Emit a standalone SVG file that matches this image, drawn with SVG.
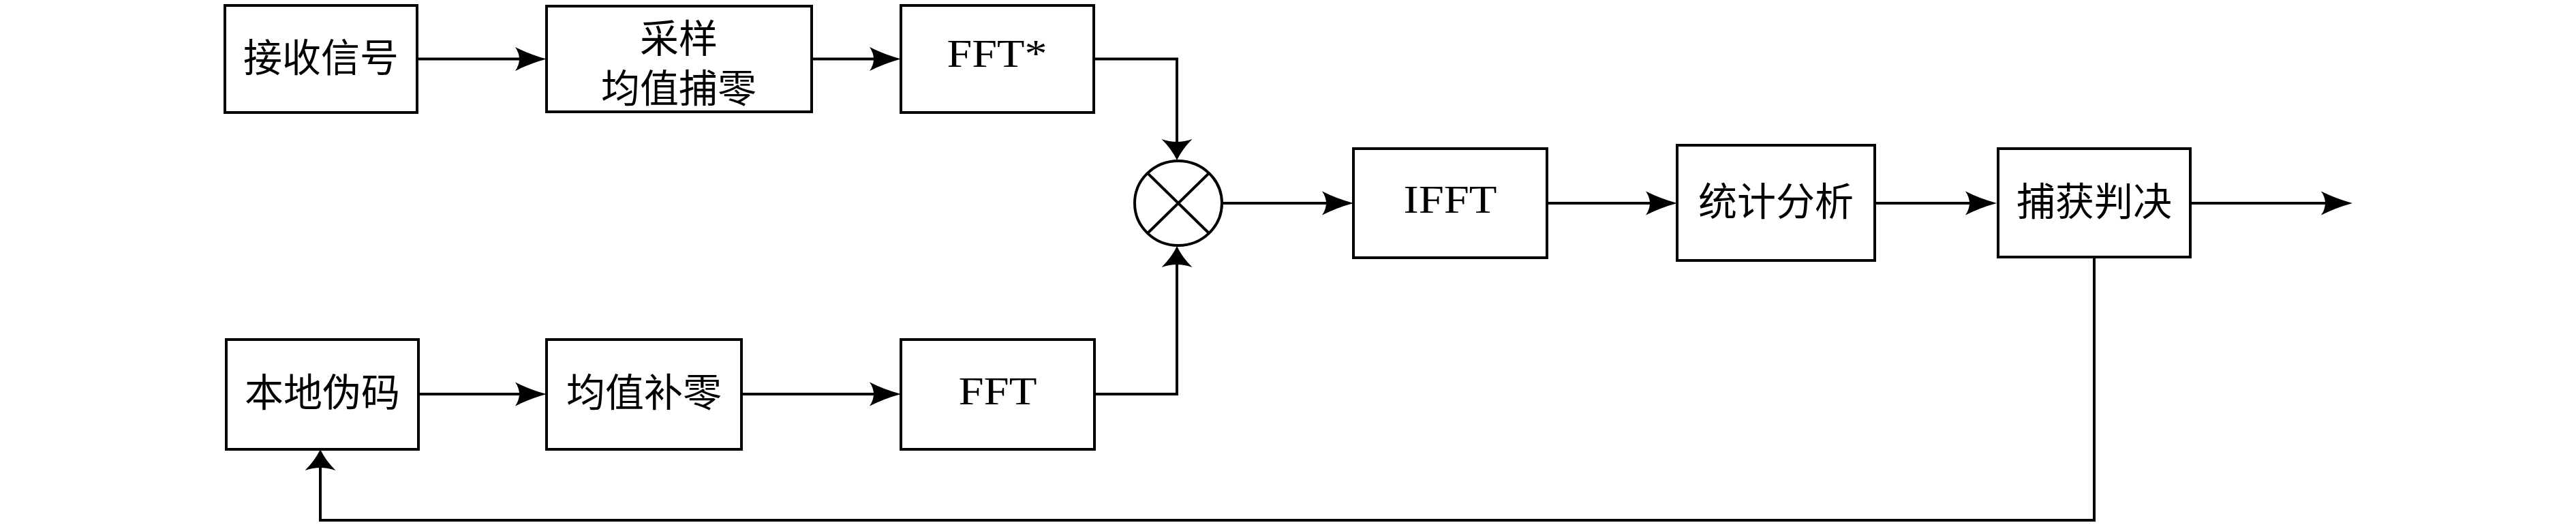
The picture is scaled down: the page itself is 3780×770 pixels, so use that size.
<svg xmlns="http://www.w3.org/2000/svg" width="3780" height="770" viewBox="0 0 3780 770">
<style>
.box{fill:#fff;stroke:#000;stroke-width:4}
.cj{font-family:"Liberation Serif","Noto Sans CJK SC",serif;font-size:57px;text-anchor:middle;fill:#000}
.lt{font-family:"Liberation Serif",serif;font-size:58px;text-anchor:middle;fill:#000}
.ln{fill:none;stroke:#000;stroke-width:4}
</style>
<defs>
<marker id="ah" markerUnits="userSpaceOnUse" markerWidth="50" markerHeight="40" refX="26" refY="17.5" orient="auto" overflow="visible">
<path d="M46,17.5 Q22,11 0,0 Q12,17.5 0,35 Q22,24 46,17.5 Z" fill="#000"/>
</marker>
<marker id="av" markerUnits="userSpaceOnUse" markerWidth="35" markerHeight="50" refX="17" refY="22.5" orient="auto" overflow="visible">
<path d="M31,22.5 Q15,15 0,0 Q8,22.5 0,45 Q15,30 31,22.5 Z" fill="#000"/>
</marker>
</defs>
<rect width="3780" height="770" fill="#fff"/>
<g id="connectors">
<path class="ln" d="M612,86.5 H782" marker-end="url(#ah)"/>
<path class="ln" d="M1191,86.5 H1302" marker-end="url(#ah)"/>
<path class="ln" d="M1605,86.5 H1727 V221" marker-end="url(#av)"/>
<path class="ln" d="M1606,578 H1727 V375" marker-end="url(#av)"/>
<path class="ln" d="M1793,298 H1966" marker-end="url(#ah)"/>
<path class="ln" d="M2270,298 H2441" marker-end="url(#ah)"/>
<path class="ln" d="M2751,298 H2910" marker-end="url(#ah)"/>
<path class="ln" d="M3214,298 H3432" marker-end="url(#ah)"/>
<path class="ln" d="M3073,377 V763 H470 V673" marker-end="url(#av)"/>
<path class="ln" d="M614,578 H782" marker-end="url(#ah)"/>
<path class="ln" d="M1088,578 H1302" marker-end="url(#ah)"/>
</g>
<g id="n-recv"><rect class="box" x="330" y="8" width="282" height="157"/><text class="cj" x="471" y="105">接收信号</text></g>
<g id="n-sample"><rect class="box" x="802" y="9" width="389" height="155"/><text class="cj" x="996" y="77">采样</text><text class="cj" x="996" y="150">均值捕零</text></g>
<g id="n-fftc"><rect class="box" x="1322" y="8" width="283" height="157"/><text class="lt" x="1463" y="98" textLength="147" lengthAdjust="spacingAndGlyphs">FFT*</text></g>
<g id="n-mul"><ellipse class="box" cx="1729" cy="298" rx="64" ry="62"/><path class="ln" d="M1684,254 L1774,342 M1774,254 L1684,342"/></g>
<g id="n-ifft"><rect class="box" x="1986" y="218" width="284" height="160"/><text class="lt" x="2128" y="312" textLength="137" lengthAdjust="spacingAndGlyphs">IFFT</text></g>
<g id="n-stat"><rect class="box" x="2461" y="213" width="290" height="169"/><text class="cj" x="2606" y="316">统计分析</text></g>
<g id="n-decide"><rect class="box" x="2932" y="218" width="282" height="159"/><text class="cj" x="3073" y="316">捕获判决</text></g>
<g id="n-local"><rect class="box" x="332" y="498" width="282" height="161"/><text class="cj" x="473" y="596">本地伪码</text></g>
<g id="n-pad"><rect class="box" x="802" y="498" width="286" height="161"/><text class="cj" x="945" y="596">均值补零</text></g>
<g id="n-fft"><rect class="box" x="1322" y="498" width="284" height="161"/><text class="lt" x="1464" y="593" textLength="115" lengthAdjust="spacingAndGlyphs">FFT</text></g>
</svg>
